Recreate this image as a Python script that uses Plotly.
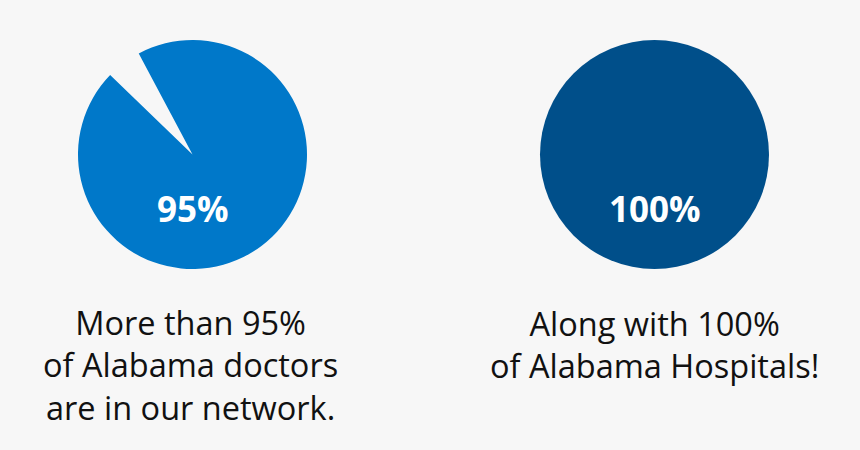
import plotly.graph_objects as go

# Data
left_values = [95, 5]
left_label = "95%"
right_values = [100]
right_label = "100%"
left_caption = ["More than 95%", "of Alabama doctors", "are in our network."]
right_caption = ["Along with 100%", "of Alabama Hospitals!"]

W, H = 860, 450
BG = "#f7f7f7"
BLUE = "#0078c9"
DARK = "#004f8a"


def px(x):
    return x / W


def py(y):
    return 1 - y / H


fig = go.Figure()
fig.add_trace(go.Pie(
    values=left_values,
    sort=False,
    direction="clockwise",
    rotation=-28,
    marker=dict(colors=[BLUE, "rgba(0,0,0,0)"], line=dict(width=0)),
    textinfo="none",
    hoverinfo="skip",
    showlegend=False,
    domain=dict(x=[px(78), px(307)], y=[py(269), py(40)]),
))
fig.add_trace(go.Pie(
    values=right_values,
    sort=False,
    marker=dict(colors=[DARK], line=dict(width=0)),
    textinfo="none",
    hoverinfo="skip",
    showlegend=False,
    domain=dict(x=[px(540), px(769)], y=[py(269), py(40)]),
))

ann = []
ann.append(dict(x=px(192.5), y=py(208), text="<b>" + left_label + "</b>",
                font=dict(family="Open Sans", size=35, color="white")))
ann.append(dict(x=px(654.5), y=py(208), text="<b>" + right_label + "</b>",
                font=dict(family="Open Sans", size=35, color="white")))
ann.append(dict(x=px(190.5), y=py(364.5), text="<br>".join(left_caption), align="center",
                font=dict(family="Open Sans", size=32.5, color="#111111")))
ann.append(dict(x=px(654), y=py(344), text="<br>".join(right_caption), align="center",
                font=dict(family="Open Sans", size=32.5, color="#111111")))
for a in ann:
    a.update(xref="paper", yref="paper", showarrow=False, xanchor="center", yanchor="middle")

fig.update_layout(
    width=W, height=H,
    margin=dict(l=0, r=0, t=0, b=0),
    paper_bgcolor=BG, plot_bgcolor=BG,
    annotations=ann,
)
fig.write_html("out.html", config={"displayModeBar": False},
               post_script="document.body.style.margin='0';document.body.style.background='" + BG + "';")
